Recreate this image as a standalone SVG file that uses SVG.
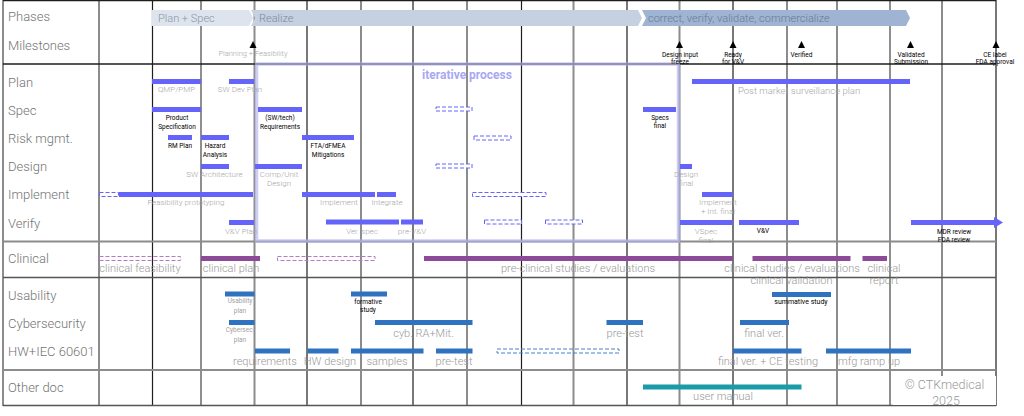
<svg xmlns="http://www.w3.org/2000/svg" width="1024" height="416" viewBox="0 0 1024 416">
<style>
text{font-family:Roboto,"Liberation Sans",sans-serif}
.row{font-size:13px;fill:#747474;font-weight:300}
.g8{font-size:8px;fill:#a6a6a6;text-anchor:middle;font-weight:300}
.g7{font-size:6.5px;fill:#a2a2a2;text-anchor:middle}
.b7{font-size:6.5px;fill:#000;text-anchor:middle}
.g11{font-size:11px;fill:#999;text-anchor:middle;font-weight:300}
.ph{font-size:11px;font-weight:300}
.bar{fill:#6464fa}
.dash{fill:#fff;stroke:#6464fa;stroke-width:1;stroke-dasharray:4 2}
.pbar{fill:#8c4a98}
.pdash{fill:none;stroke:#b47ac4;stroke-width:1;stroke-dasharray:4 2}
.hbar{fill:#2f72bf}
.hdash{fill:none;stroke:#4a80c8;stroke-width:1;stroke-dasharray:4 2}
.tbar{fill:#1a9ba8}
.gl{stroke:#8c8c8c;stroke-width:2}
.bl{stroke:#1e1e1e;stroke-width:1.2}
.ms{fill:#000}
</style>
<rect width="1024" height="416" fill="#fff"/>
<g id="grid">
<line class="gl" x1="3" y1="0" x2="3" y2="406"/>
<line class="gl" x1="99" y1="0" x2="99" y2="406"/>
<line class="bl" x1="152.5" y1="0" x2="152.5" y2="406"/>
<line class="bl" x1="201" y1="0" x2="201" y2="406" style="stroke:#444"/>
<line class="gl" x1="254.5" y1="0" x2="254.5" y2="406"/>
<line class="bl" x1="307" y1="0" x2="307" y2="406"/>
<line class="gl" x1="361" y1="0" x2="361" y2="406"/>
<line class="bl" x1="413" y1="0" x2="413" y2="406"/>
<line class="gl" x1="467" y1="0" x2="467" y2="406"/>
<line class="bl" x1="521.5" y1="0" x2="521.5" y2="406"/>
<line class="gl" x1="573.5" y1="0" x2="573.5" y2="406"/>
<line class="bl" x1="627" y1="0" x2="627" y2="406"/>
<line class="gl" x1="679.5" y1="0" x2="679.5" y2="406"/>
<line class="bl" x1="733" y1="0" x2="733" y2="406"/>
<line class="gl" x1="787" y1="0" x2="787" y2="406"/>
<line class="gl" x1="837" y1="0" x2="837" y2="406"/>
<line class="bl" x1="890" y1="0" x2="890" y2="406" style="stroke:#444"/>
<line class="gl" x1="942" y1="0" x2="942" y2="406"/>
<line class="bl" x1="996" y1="0" x2="996" y2="406"/>
<line class="bl" x1="3" y1="0.7" x2="996" y2="0.7"/>
<line class="bl" x1="3" y1="64" x2="996" y2="64" style="stroke-width:1.5"/>
<line class="gl" x1="3" y1="241.5" x2="996" y2="241.5"/>
<line class="gl" x1="3" y1="277.5" x2="996" y2="277.5" style="stroke:#555;stroke-width:1.5"/>
<line class="gl" x1="3" y1="370" x2="996" y2="370"/>
<line class="gl" x1="3" y1="405.5" x2="996" y2="405.5" style="stroke:#555;stroke-width:1.5"/>
</g>
<g id="row-labels">
<text class="row" x="8" y="21">Phases</text>
<text class="row" x="8" y="50">Milestones</text>
<text class="row" x="8" y="87">Plan</text>
<text class="row" x="8" y="115">Spec</text>
<text class="row" x="8" y="143">Risk mgmt.</text>
<text class="row" x="8" y="171">Design</text>
<text class="row" x="8" y="199">Implement</text>
<text class="row" x="8" y="228">Verify</text>
<text class="row" x="8" y="263">Clinical</text>
<text class="row" x="8" y="300">Usability</text>
<text class="row" x="8" y="328">Cybersecurity</text>
<text class="row" x="8" y="356">HW+IEC 60601</text>
<text class="row" x="8" y="392">Other doc</text>
</g>
<g id="phases">
<polygon points="152,10 249,10 253,18 249,26 152,26" fill="#dde4ee"/>
<polygon points="251,10 638,10 642,18 638,26 251,26 255,18" fill="#c5d0e1"/>
<polygon points="642,10 906,10 910,18 906,26 642,26 646,18" fill="#9fb3d3"/>
<text class="ph" x="158" y="22" fill="#8a94a3">Plan + Spec</text>
<text class="ph" x="259" y="22" fill="#7d8a9c">Realize</text>
<text class="ph" x="648" y="22" fill="#6a7a92">correct, verify, validate, commercialize</text>
</g>
<g id="iterative">
<rect x="256.5" y="64" width="422" height="177" fill="none" stroke="#b4b4f0" stroke-opacity="0.65" stroke-width="3.5"/>
<text x="467" y="79" font-size="12" font-weight="bold" fill="#a8a8f2" text-anchor="middle">iterative process</text>
</g>
<g id="milestones">
<polygon class="ms" points="253,41 249.5,48 256.5,48"/>
<text class="g8" x="253" y="56" style="font-size:7.5px">Planning + Feasibility</text>
<polygon class="ms" points="679.5,41 676,48 683,48"/>
<text class="b7" x="680" y="56.5">Design input</text><text class="b7" x="680" y="63.5">freeze</text>
<polygon class="ms" points="733,41 729.5,48 736.5,48"/>
<text class="b7" x="733" y="56.5">Ready</text><text class="b7" x="733" y="63.5">for V&amp;V</text>
<polygon class="ms" points="801.5,41 798,48 805,48"/>
<text class="b7" x="801.5" y="56.5">Verified</text>
<polygon class="ms" points="910.5,41 907,48 914,48"/>
<text class="b7" x="911" y="56.5">Validated</text><text class="b7" x="911" y="63.5">Submission</text>
<polygon class="ms" points="996,41 992.5,48 999.5,48"/>
<text class="b7" x="995" y="56.5">CE label</text><text class="b7" x="995" y="63.5">FDA approval</text>
</g>
<g id="plan">
<g id="qmp"><rect class="bar" x="152" y="79" width="49" height="5"/><text class="g8" x="176.5" y="92">QMP/PMP</text></g>
<g id="swdevplan"><rect class="bar" x="229" y="79" width="25" height="5"/><text class="g8" x="240" y="92">SW Dev Plan</text></g>
<g id="pms"><rect class="bar" x="692" y="79" width="218" height="5"/><text x="738" y="94" font-size="9.5" fill="#a6a6a6" font-weight="300">Post market surveillance plan</text></g>
</g>
<g id="spec">
<g id="prodspec"><rect class="bar" x="152" y="107" width="49" height="5"/><text class="b7" x="177" y="119.5">Product</text><text class="b7" x="177" y="128.5">Specification</text></g>
<g id="swreq"><rect class="bar" x="258" y="107" width="44" height="5"/><text class="b7" x="280" y="119.5">(SW/tech)</text><text class="b7" x="280" y="128.5">Requirements</text></g>
<rect class="dash" x="436" y="107" width="36" height="4"/>
<g id="specsfinal"><rect class="bar" x="643" y="107" width="33" height="5"/><text class="b7" x="660" y="119.5">Specs</text><text class="b7" x="660" y="128">final</text></g>
</g>
<g id="risk">
<g id="rmplan"><rect class="bar" x="168" y="135" width="24" height="5"/><text class="b7" x="180" y="147.5">RM Plan</text></g>
<g id="hazard"><rect class="bar" x="201" y="135" width="28" height="5"/><text class="b7" x="215" y="147.5">Hazard</text><text class="b7" x="215" y="156.5">Analysis</text></g>
<g id="fta"><rect class="bar" x="302" y="135" width="52" height="5"/><text class="b7" x="328" y="148">FTA/dFMEA</text><text class="b7" x="328" y="157">Mitigations</text></g>
<rect class="dash" x="474" y="136" width="37" height="4"/>
</g>
<g id="design">
<g id="swarch"><rect class="bar" x="201" y="164" width="28" height="5"/><text class="g8" x="214.5" y="177">SW Architecture</text></g>
<g id="compunit"><rect class="bar" x="255" y="164" width="47" height="5"/><text class="g8" x="279" y="177">Comp/Unit</text><text class="g8" x="279" y="186">Design</text></g>
<rect class="dash" x="436" y="164" width="36" height="4"/>
<g id="designfinal"><rect class="bar" x="680" y="164" width="12" height="5"/><text class="g8" x="686" y="177">Design</text><text class="g8" x="686" y="186">final</text></g>
</g>
<g id="implement">
<rect class="dash" x="99.5" y="192.5" width="19" height="4"/>
<g id="feas"><rect class="bar" x="119" y="192" width="134" height="5"/><text class="g8" x="186" y="205">Feasibility prototyping</text></g>
<g id="impl"><rect class="bar" x="302" y="192" width="73" height="5"/><text class="g8" x="339" y="205">Implement</text></g>
<g id="integ"><rect class="bar" x="377" y="192" width="19" height="5"/><text class="g8" x="387" y="205">Integrate</text></g>
<rect class="dash" x="472.5" y="192.5" width="73.5" height="4"/>
<g id="implfinal"><rect class="bar" x="702" y="192" width="31" height="5"/><text class="g8" x="718" y="205">Implement</text><text class="g8" x="718" y="214">+ Int. final</text></g>
</g>
<g id="verify">
<g id="vvplan"><rect class="bar" x="229" y="220" width="25" height="5"/><text class="g8" x="241" y="233.5">V&amp;V Plan</text></g>
<g id="verspec"><rect class="bar" x="326" y="219.5" width="73" height="5"/><text class="g8" x="362" y="234">Ver. spec</text></g>
<g id="prevv"><rect class="bar" x="401" y="219.5" width="22" height="5"/><text class="g8" x="412" y="234">pre-V&amp;V</text></g>
<rect class="dash" x="484.5" y="220" width="37" height="4"/>
<rect class="dash" x="545.5" y="220" width="37" height="4"/>
<g id="vspec"><rect class="bar" x="680" y="220" width="53" height="5"/><text class="g8" x="706" y="233.5">VSpec</text><text class="g8" x="706" y="242.5">final</text></g>
<g id="vv"><rect class="bar" x="739" y="220" width="60" height="5"/><text class="b7" x="763" y="232.5">V&amp;V</text></g>
<g id="mdr"><text class="b7" x="954" y="233.5">MDR review</text><text class="b7" x="954" y="241.5">FDA review</text></g>
</g>
<g id="clinical">
<rect class="pdash" x="99.5" y="256.5" width="81" height="4"/>
<text class="g11" x="140" y="272">clinical feasibility</text>
<g id="clinplan"><rect class="pbar" x="201" y="256" width="59" height="5"/><text class="g11" x="231" y="272">clinical plan</text></g>
<rect class="pdash" x="277.5" y="256.5" width="97.5" height="4"/>
<g id="preclin"><rect class="pbar" x="424" y="256" width="309" height="5"/><text class="g11" x="578" y="272">pre-clinical studies / evaluations</text></g>
<g id="clinstud"><rect class="pbar" x="752.5" y="256" width="98" height="5"/><text class="g11" x="792" y="272">clinical studies / evaluations</text><text class="g11" x="791.5" y="284">clinical validation</text></g>
<g id="clinrep"><rect class="pbar" x="862.5" y="256" width="24.5" height="5"/><text class="g11" x="884" y="272">clinical</text><text class="g11" x="884" y="284">report</text></g>
</g>
<g id="usability">
<g id="usaplan"><rect class="hbar" x="225" y="291.5" width="29.5" height="5"/><text class="g7" x="240" y="303">Usability</text><text class="g7" x="240" y="313">plan</text></g>
<g id="formative"><rect class="hbar" x="351" y="291.5" width="36" height="5"/><text class="b7" x="368" y="303.5">formative</text><text class="b7" x="368" y="312">study</text></g>
<g id="summative"><rect class="hbar" x="772" y="292" width="59" height="5"/><text class="b7" x="801" y="304" style="font-size:7px">summative study</text></g>
</g>
<g id="cyber">
<g id="cybplan"><rect class="hbar" x="229" y="320" width="25.5" height="5"/><text class="g7" x="240" y="331.5">Cybersec.</text><text class="g7" x="240" y="341.5">plan</text></g>
<g id="cybra"><rect class="hbar" x="375" y="320" width="97.5" height="5"/><text class="g11" x="423.5" y="336.5">cyb. RA+Mit.</text></g>
<g id="cybpre"><rect class="hbar" x="606.5" y="320" width="36.5" height="5"/><text class="g11" x="625" y="336.5">pre-test</text></g>
<g id="cybfinal"><rect class="hbar" x="740" y="320" width="49" height="5"/><text class="g11" x="764" y="336.5">final ver.</text></g>
</g>
<g id="hw">
<g id="hwreq"><rect class="hbar" x="255" y="348.5" width="35" height="5"/><text class="g11" x="265" y="364.5">requirements</text></g>
<g id="hwdes"><rect class="hbar" x="307.5" y="348.5" width="31" height="5"/><text class="g11" x="330" y="364.5">HW design</text></g>
<g id="hwsam"><rect class="hbar" x="351" y="348.5" width="72.5" height="5"/><text class="g11" x="387" y="364.5">samples</text></g>
<g id="hwpre"><rect class="hbar" x="436" y="348.5" width="36.5" height="5"/><text class="g11" x="454" y="364.5">pre-test</text></g>
<rect class="hdash" x="497" y="349" width="122" height="4"/>
<g id="hwfinal"><rect class="hbar" x="733" y="348.5" width="68.5" height="5"/><text class="g11" x="768" y="364.5">final ver. + CE testing</text></g>
<g id="mfg"><rect class="hbar" x="826" y="348.5" width="85" height="5"/><text class="g11" x="869" y="364.5">mfg ramp up</text></g>
</g>
<g id="otherdoc">
<g id="manual"><rect class="tbar" x="643" y="384.5" width="158.5" height="5"/><text class="g11" x="723" y="399.5">user manual</text></g>
</g>
<g id="copyright">
<rect x="893" y="376" width="103" height="29" fill="#fff"/>
<text x="944.5" y="389" font-size="12.5" fill="#999" font-weight="300" text-anchor="middle">© CTKmedical</text>
<text x="946" y="404.5" font-size="12.5" fill="#999" font-weight="300" text-anchor="middle">2025</text>
</g>
<g id="connectors">
<rect class="bar" x="911" y="220" width="84" height="5"/>
<polygon class="bar" points="994,217 1003,222.5 994,228"/>
</g>
</svg>
